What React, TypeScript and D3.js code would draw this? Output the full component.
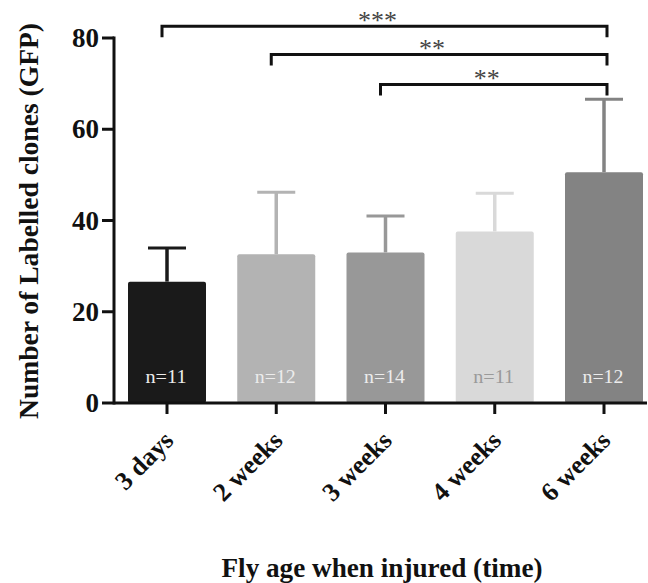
import React from 'react';
import { scaleBand, scaleLinear } from 'd3';

const categories = ['3 days', '2 weeks', '3 weeks', '4 weeks', '6 weeks'];
const means = [26.6, 32.6, 33.0, 37.6, 50.6];
const errUpper = [34.0, 46.2, 41.0, 46.0, 66.6];
const nCounts = [11, 12, 14, 11, 12];
const barColors = ['#1a1a1a', '#b3b3b3', '#989898', '#d9d9d9', '#838383'];
const nColors = ['#ececec', '#ececec', '#ececec', '#9a9a9a', '#ececec'];
const yTicks = [0, 20, 40, 60, 80];
// significance brackets
const compFrom = ['3 days', '2 weeks', '3 weeks'];
const compTo = ['6 weeks', '6 weeks', '6 weeks'];
const compLevel = [82.6, 76.4, 69.8];
const compStars = ['***', '**', '**'];

const FONT = '"Liberation Serif", "Times New Roman", serif';

const App = () => {
  const width = 648;
  const height = 583;

  const y = scaleLinear().domain([0, 80]).range([403, 38]);
  const x = scaleBand().domain(categories).range([128, 643]).paddingInner(0.286).paddingOuter(0);

  const axisX = 114;
  const baseY = y(0);
  const cx = (c) => x(c) + x.bandwidth() / 2;

  return (
    <svg width={width} height={height} style={{ position: 'absolute', left: 0, top: 0, background: '#fff' }}>
      {/* bars + error bars */}
      {categories.map((c, i) => (
        <g key={c}>
          <line x1={cx(c)} x2={cx(c)} y1={y(means[i])} y2={y(errUpper[i])} stroke={barColors[i]} strokeWidth={3.5} />
          <line x1={cx(c) - 19} x2={cx(c) + 19} y1={y(errUpper[i])} y2={y(errUpper[i])} stroke={barColors[i]} strokeWidth={3} />
          <rect x={x(c)} y={y(means[i])} width={x.bandwidth()} height={baseY - y(means[i])} fill={barColors[i]} rx={2} />
          <text x={cx(c) - 1} y={383} textAnchor="middle" fontFamily={FONT} fontSize={18} fill={nColors[i]}
            textLength={41} lengthAdjust="spacingAndGlyphs">
            {'n=' + nCounts[i]}
          </text>
        </g>
      ))}

      {/* y axis */}
      <line x1={axisX} x2={axisX} y1={y(80) - 1.5} y2={baseY + 1.5} stroke="#111" strokeWidth={3} />
      {yTicks.map((t) => (
        <g key={t}>
          <line x1={axisX - 12} x2={axisX} y1={y(t)} y2={y(t)} stroke="#111" strokeWidth={3} />
          <text x={99} y={y(t) + 9} textAnchor="end" fontFamily={FONT} fontWeight="bold" fontSize={27} fill="#111">
            {t}
          </text>
        </g>
      ))}

      {/* x axis */}
      <line x1={axisX} x2={647} y1={baseY} y2={baseY} stroke="#111" strokeWidth={3} />
      {categories.map((c) => (
        <g key={c}>
          <line x1={cx(c)} x2={cx(c)} y1={baseY} y2={baseY + 11} stroke="#111" strokeWidth={3} />
          <text
            transform={`translate(${cx(c) + 8},442) rotate(-45)`}
            textAnchor="end"
            fontFamily={FONT}
            fontWeight="bold"
            fontSize={26}
            fill="#111"
          >
            {c}
          </text>
        </g>
      ))}

      {/* significance brackets */}
      {compFrom.map((f, i) => {
        const x1 = cx(f) - 5;
        const x2 = cx(compTo[i]) + 3;
        const ly = y(compLevel[i]);
        return (
          <g key={i}>
            <path d={`M${x1},${ly + 11}V${ly}H${x2}V${ly + 11}`} fill="none" stroke="#111" strokeWidth={3} />
            <text x={(x1 + x2) / 2 - 7} y={ly + 2.5} textAnchor="middle" fontFamily={FONT} fontSize={26} fill="#444">
              {compStars[i]}
            </text>
          </g>
        );
      })}

      {/* titles */}
      <text transform="translate(38,221) rotate(-90)" textAnchor="middle" fontFamily={FONT} fontWeight="bold" fontSize={27}
        fill="#111" textLength={396} lengthAdjust="spacingAndGlyphs">
        Number of Labelled clones (GFP)
      </text>
      <text x={382} y={577} textAnchor="middle" fontFamily={FONT} fontWeight="bold" fontSize={28} fill="#111"
        textLength={321} lengthAdjust="spacingAndGlyphs">
        Fly age when injured (time)
      </text>
    </svg>
  );
};

export default App;
